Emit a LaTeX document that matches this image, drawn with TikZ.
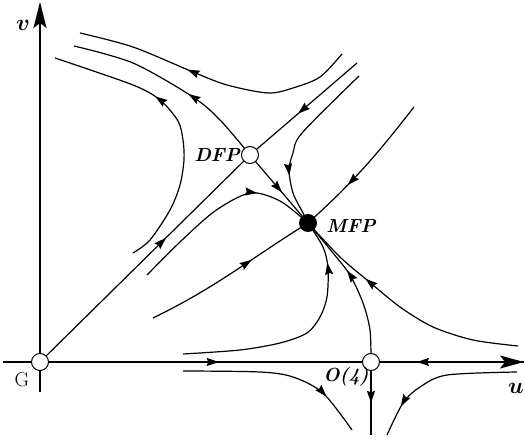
\RequirePackage{fix-cm}
\documentclass[tikz,border=0pt]{standalone}
\usepackage{bm}
\usetikzlibrary{arrows.meta,decorations.markings}
\begin{document}
\begin{tikzpicture}[x=1pt,y=1pt,
  traj/.style={line width=1.2pt},
  axisline/.style={line width=1.4pt},
  midarr/.style={postaction={decorate},decoration={markings,mark=at position #1 with {\arrow{Stealth[length=12pt,width=8pt,inset=1.5pt]}}}},
  openfp/.style={circle,draw,fill=white,line width=1pt,minimum size=17pt,inner sep=0pt},
  fullfp/.style={circle,fill=black,minimum size=18pt,inner sep=0pt},
  lab/.style={font=\fontsize{19}{22}\selectfont\bfseries\itshape,inner sep=0pt},
  axlab/.style={font=\fontsize{23}{25}\selectfont,inner sep=0pt}]
\useasboundingbox (0,0) rectangle (525,439);
% fixed point positions
\coordinate (pG) at (40,77);
\coordinate (pDFP) at (250,284);
\coordinate (pMFP) at (308,216);
\coordinate (pO4) at (371,77);
\coordinate (uStart) at (3,77);
\coordinate (uEnd) at (524,77);
\coordinate (vStart) at (40,47);
\coordinate (vEnd) at (40,437);
\coordinate (dEnd) at (357,376);
% axes
\draw[axisline,-{Stealth[length=26pt,width=13pt,inset=5pt]}] (vStart) -- (vEnd);
\draw[axisline] (uStart) -- (pG);
\draw[axisline,midarr=0.54] (pG) -- (pO4);
\draw[axisline,midarr=0.70] (uEnd) -- (pO4);
\draw[axisline,-{Stealth[length=24pt,width=13pt,inset=5pt]}] (pO4) -- (uEnd);
% separatrices of DFP
\draw[traj,midarr=0.6] (pG) -- (pDFP);
\draw[traj,midarr=0.55] (dEnd) -- (pDFP);
\draw[traj,midarr=0.55] (pDFP) -- (pMFP);
\draw[traj,midarr=0.41] plot[smooth] coordinates {(pDFP) (220,319) (193,342) (133,376) (74,393)};
% top hyperbola
\draw[traj,midarr=0.6] plot[smooth] coordinates {(342,385) (320,362) (293,351) (268,346) (227,354) (193,367) (133,392) (80,406)};
% left curve
\draw[traj,midarr=0.63] plot[smooth] coordinates {(133,186) (150,199) (170,229) (180,254) (184,279) (183,299) (178,318) (160,339) (133,354) (55,381)};
% curve below DFP into MFP
\draw[traj,midarr=0.7] plot[smooth] coordinates {(147,164) (180,197) (215,228) (250,246) (280,238) (pMFP)};
% lower-left line into MFP
\draw[traj,midarr=0.63] (153,121) to[out=26,in=-148] (pMFP);
% top-right curves into MFP
\draw[traj,midarr=0.71] plot[smooth] coordinates {(359,363) (302,306) (293,286) (289,269) (293,246) (303,226) (pMFP)};
\draw[traj,midarr=0.65] (414,332) to[out=232,in=42] (pMFP);
% curves from below into MFP
\draw[traj,midarr=0.82] plot[smooth] coordinates {(183,85) (240,89) (280,96) (307,106) (320,122) (327,142) (328,171) (323,192) (pMFP)};
\draw[traj,midarr=0.61] plot[smooth] coordinates {(pO4) (370,109) (363,136) (350,164) (333,186) (pMFP)};
\draw[traj,midarr=0.68] plot[smooth] coordinates {(518,93) (473,99) (433,112) (400,132) (367,159) (340,182) (pMFP)};
% curves below the u axis
\draw[traj,midarr=0.78] plot[smooth] coordinates {(183,68) (260,67) (293,62) (323,46) (352,9)};
\draw[traj,midarr=0.8] plot[smooth] coordinates {(517,67) (447,64) (420,52) (403,36) (387,4)};
\draw[traj,midarr=0.56] (pO4) -- (371,4);
% fixed points
\node[openfp] (G) at (pG) {};
\node[openfp] (DFP) at (pDFP) {};
\node[fullfp] (MFP) at (pMFP) {};
\node[openfp] (O4) at (pO4) {};
% labels
\node[lab] (lDFP) at (217,284) {DFP};
\node[lab] (lMFP) at (351,213) {MFP};
\node[lab] (lO4) at (346,62) {O(4)};
\node[font=\fontsize{20}{22}\selectfont,inner sep=0pt] (lG) at (22,59) {G};
\node[axlab] (lu) at (516,51) {$\bm{u}$};
\node[axlab] (lv) at (23,414) {$\bm{v}$};
\end{tikzpicture}
\end{document}
